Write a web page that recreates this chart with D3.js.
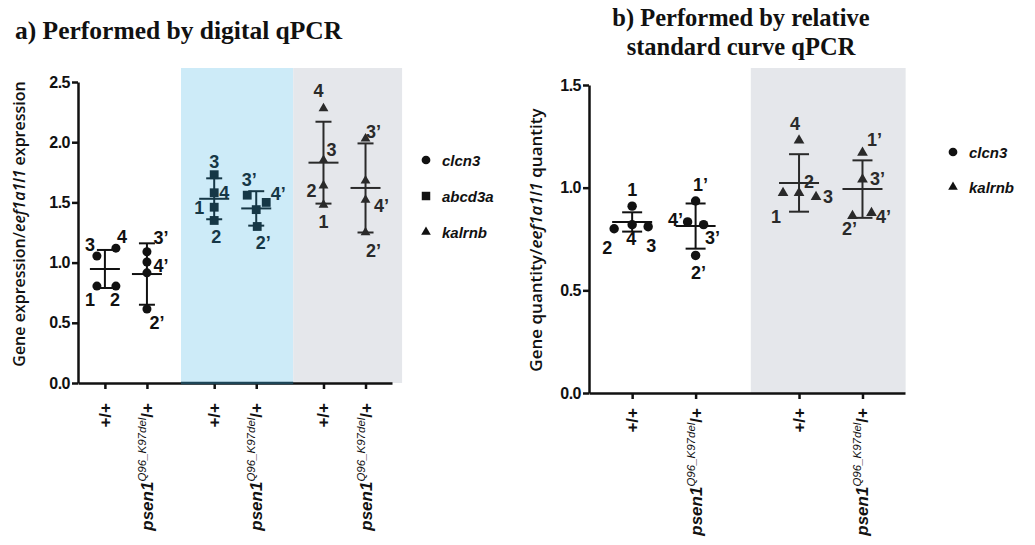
<!DOCTYPE html>
<html lang="en">
<head>
<meta charset="UTF-8">
<title>psen1 qPCR</title>
<style>
  body { margin: 0; background: #fff; }
  svg { display: block; font-family: "Liberation Sans", Arial, sans-serif; }
</style>
<script src="https://d3js.org/d3.v7.min.js"></script>
</head>
<body>
<svg width="1035" height="545"></svg>
<script>
// sample names
const wtNames = ['1', '2', '3', '4'];
const mutNames = ['1\u2019', '2\u2019', '3\u2019', '4\u2019'];

// a) digital qPCR, one row per gene, samples 1..4
const aGenes = ['clcn3', 'abcd3a', 'kalrnb'];
const aWT = [
    [0.805, 0.805, 1.055, 1.12],
    [1.46, 1.35, 1.73, 1.58],
    [1.48, 1.64, 1.85, 2.28]
];
const aMut = [
    [0.915, 0.615, 1.09, 1.005],
    [1.44, 1.30, 1.56, 1.50],
    [1.68, 1.25, 2.03, 1.52]
];
const aMeanWT = [0.947, 1.53, 1.83];
const aSdWT = [0.158, 0.17, 0.34];
const aMeanMut = [0.905, 1.45, 1.62];
const aSdMut = [0.255, 0.143, 0.37];
const aTicks = [0, 0.5, 1.0, 1.5, 2.0, 2.5];

// b) relative standard curve qPCR
const bGenes = ['clcn3', 'kalrnb'];
const bWT = [
    [0.91, 0.80, 0.81, 0.82],
    [0.974, 0.974, 0.955, 1.23]
];
const bMut = [
    [0.935, 0.67, 0.82, 0.833],
    [1.17, 0.862, 1.04, 0.877]
];
const bMeanWT = [0.833, 1.023];
const bSdWT = [0.047, 0.14];
const bMeanMut = [0.813, 0.993];
const bSdMut = [0.11, 0.14];
const bTicks = [0, 0.5, 1.0, 1.5];

// layout only: horizontal scatter of points (px) and label nudges (px)
const aJitterWT = [[-8, 11, -8, 11], [0, 0, 0, 0], [0, 0, 0, 0]];
const aJitterMut = [[0, 0, 0, 0], [0, 1, -9, 10], [0, 0, 0, 0]];
const aLabelWT = [
    [[-7, 14], [-1, 14], [-7, -11], [6, -11]],
    [[-15, 1], [2, 17], [0, -13], [10, 0]],
    [[0, 17], [-12, 5], [8, -10], [-5, -17]]
];
const aLabelMut = [
    [null, [10, 14], [14, -14], [14, 4]],
    [null, [6, 17], [2, -15], [12, -8]],
    [null, [8, 18], [8, -7], [16, 6]]
];
const bJitterWT = [[0, -18, 16, 0], [-16, 0, 17, 0]];
const bJitterMut = [[0, 0, 8, -8], [0, -10, 0, 9]];
const bLabelWT = [
    [[0, -16], [-7, 19], [3, 19], [-1, 14]],
    [[-7, 24], [10, -11], [12, 0], [-4, -16]]
];
const bLabelMut = [
    [[5, -16], [3, 18], [9, 13], [-12, -2]],
    [[12, -13], [-3, 13], [15, 0], [12, 4]]
];

const svg = d3.select('svg');
const serif = '"Liberation Serif", "Times New Roman", serif';

function marker(shape, size) {
    const types = { circle: d3.symbolCircle, square: d3.symbolSquare, triangle: d3.symbolTriangle };
    return d3.symbol().type(types[shape]).size(size)();
}

function drawYAxis(y, x0, ticks) {
    const g = svg.append('g')
        .attr('transform', `translate(${x0},0)`)
        .call(d3.axisLeft(y).tickValues(ticks).tickFormat(d3.format('.1f')).tickSize(6).tickSizeOuter(0));
    g.select('.domain').attr('stroke', '#111').attr('stroke-width', 2.5);
    g.selectAll('.tick line').attr('stroke', '#111').attr('stroke-width', 2.5);
    g.selectAll('.tick text')
        .attr('font-family', '"Liberation Sans", Arial, sans-serif')
        .attr('font-size', 16).attr('font-weight', 'bold').attr('fill', '#111').attr('x', -8)
        .attr('letter-spacing', -0.5);
}

function drawXAxis(x, y0, slots) {
    const g = svg.append('g')
        .attr('transform', `translate(0,${y0})`)
        .call(d3.axisBottom(x).tickValues(slots).tickFormat('').tickSize(6).tickSizeOuter(0));
    g.select('.domain').attr('stroke', '#111').attr('stroke-width', 2.5);
    g.selectAll('.tick line').attr('stroke', '#111').attr('stroke-width', 2.5);
}

function drawGenotypeLabels(x, slots, top) {
    slots.forEach((s, i) => {
        const t = svg.append('g')
            .attr('transform', `translate(${x(s) + 6},${top}) rotate(-90)`)
            .append('text')
            .attr('text-anchor', 'end')
            .attr('fill', '#111')
            .attr('font-size', 17)
            .attr('font-weight', 'bold');
        if (i % 2 === 0) {
            t.text('+/+');
        } else {
            t.append('tspan').attr('font-style', 'italic').text('psen1');
            t.append('tspan').attr('font-style', 'italic').attr('font-weight', 'normal')
                .attr('font-size', 11.5).attr('dy', -7).text('Q96_K97del');
            t.append('tspan').attr('dy', 7).text('/+');
        }
    });
}

function drawGroup(x, y, slot, values, jitter, names, nudges, mean, sd, shape, size, color, meanHalf, capHalf) {
    const cx = x(slot);
    // error bar: mean line, SD whisker and caps
    const g = svg.append('g').attr('stroke', color).attr('stroke-width', 2).attr('fill', 'none');
    g.append('line').attr('x1', cx).attr('x2', cx).attr('y1', y(mean - sd)).attr('y2', y(mean + sd));
    g.append('line').attr('x1', cx - meanHalf).attr('x2', cx + meanHalf).attr('y1', y(mean)).attr('y2', y(mean));
    [mean - sd, mean + sd].forEach(v => {
        g.append('line').attr('x1', cx - capHalf).attr('x2', cx + capHalf).attr('y1', y(v)).attr('y2', y(v));
    });
    svg.append('g').selectAll('path')
        .data(values)
        .join('path')
        .attr('d', marker(shape, size))
        .attr('transform', (d, i) => `translate(${cx + jitter[i]},${y(d)})`)
        .attr('fill', color);
    svg.append('g').selectAll('text')
        .data(values.map((d, i) => ({ v: d, i })).filter(d => nudges[d.i]))
        .join('text')
        .attr('x', d => cx + jitter[d.i] + nudges[d.i][0])
        .attr('y', d => y(d.v) + nudges[d.i][1])
        .attr('text-anchor', 'middle')
        .attr('dominant-baseline', 'central')
        .attr('font-size', 18)
        .attr('font-weight', 'bold')
        .attr('fill', color)
        .text(d => names[d.i]);
}

function drawLegend(genes, shapes, sizes, lx, ys) {
    genes.forEach((gname, i) => {
        svg.append('path')
            .attr('d', marker(shapes[i], sizes[i]))
            .attr('transform', `translate(${lx},${ys[i]})`)
            .attr('fill', '#111');
        svg.append('text')
            .attr('x', lx + 16).attr('y', ys[i])
            .attr('dominant-baseline', 'central')
            .attr('font-size', 15).attr('font-weight', 'bold').attr('font-style', 'italic')
            .attr('fill', '#111')
            .text(gname);
    });
}

function drawYTitle(cx, cy, before, italic, after, size) {
    const t = svg.append('text')
        .attr('transform', `translate(${cx},${cy}) rotate(-90)`)
        .attr('text-anchor', 'middle')
        .attr('dominant-baseline', 'central')
        .attr('font-family', '"Open Sans", sans-serif')
        .attr('font-size', size).attr('font-weight', 600).attr('fill', '#111');
    t.append('tspan').text(before);
    t.append('tspan').attr('font-style', 'italic').text(italic);
    t.append('tspan').text(after);
}

// ---------- panel a ----------
const aSlots = [0, 1, 2.6, 3.6, 5.2, 6.2];
const xa = d3.scaleLinear().domain([-0.64, 6.83]).range([78, 392]);
const ya = d3.scaleLinear().domain([0, 2.5]).range([383, 82]);
const aColors = ['#111', '#163746', '#2a2a2a'];
const aShapes = ['circle', 'square', 'triangle'];
const aSizes = [64, 78, 42];

svg.append('rect').attr('x', xa(1.81)).attr('y', 68)
    .attr('width', xa(4.48) - xa(1.81)).attr('height', ya(0) - 68).attr('fill', '#cdebf8');
svg.append('rect').attr('x', xa(4.48)).attr('y', 68)
    .attr('width', xa(7.07) - xa(4.48)).attr('height', ya(0) - 68).attr('fill', '#e5e7eb');

drawYAxis(ya, 78, aTicks);
drawXAxis(xa, ya(0), aSlots);
svg.append('line').attr('x1', xa(1.81)).attr('x2', xa(4.48)).attr('y1', ya(0)).attr('y2', ya(0))
    .attr('stroke', '#1d4557').attr('stroke-width', 2.5);
drawGenotypeLabels(xa, aSlots, 403);

aGenes.forEach((gname, k) => {
    drawGroup(xa, ya, aSlots[2 * k], aWT[k], aJitterWT[k], wtNames, aLabelWT[k],
        aMeanWT[k], aSdWT[k], aShapes[k], aSizes[k], aColors[k], 15, 8);
    drawGroup(xa, ya, aSlots[2 * k + 1], aMut[k], aJitterMut[k], mutNames, aLabelMut[k],
        aMeanMut[k], aSdMut[k], aShapes[k], aSizes[k], aColors[k], 15, 8);
});
drawLegend(aGenes, aShapes, [60, 72, 40], 426, [160, 196, 232]);
drawYTitle(19, 224, 'Gene expression/', 'eef1a1l1', ' expression', 16);

svg.append('text').attr('x', 15).attr('y', 39)
    .attr('font-family', serif)
    .attr('font-size', 25.5).attr('font-weight', 'bold').attr('fill', '#111')
    .text('a) Performed by digital qPCR');

// ---------- panel b ----------
const bSlots = [0, 1, 2.63, 3.63];
const xb = d3.scaleLinear().domain([-0.68, 4.3]).range([589, 905]);
const yb = d3.scaleLinear().domain([0, 1.5]).range([393, 85]);
const bColors = ['#111', '#2a2a2a'];
const bShapes = ['circle', 'triangle'];
const bSizes = [70, 50];

svg.append('rect').attr('x', xb(1.87)).attr('y', 68)
    .attr('width', xb(4.31) - xb(1.87)).attr('height', yb(0) - 68).attr('fill', '#e5e7eb');

drawYAxis(yb, 589, bTicks);
drawXAxis(xb, yb(0), bSlots);
drawGenotypeLabels(xb, bSlots, 408);

bGenes.forEach((gname, k) => {
    drawGroup(xb, yb, bSlots[2 * k], bWT[k], bJitterWT[k], wtNames, bLabelWT[k],
        bMeanWT[k], bSdWT[k], bShapes[k], bSizes[k], bColors[k], 20, 10);
    drawGroup(xb, yb, bSlots[2 * k + 1], bMut[k], bJitterMut[k], mutNames, bLabelMut[k],
        bMeanMut[k], bSdMut[k], bShapes[k], bSizes[k], bColors[k], 20, 10);
});
drawLegend(bGenes, bShapes, [60, 40], 953, [152, 187]);
drawYTitle(535, 240, 'Gene quantity/', 'eef1a1l1', ' quantity', 17);

svg.append('text').attr('x', 741).attr('y', 26)
    .attr('text-anchor', 'middle').attr('font-family', serif)
    .attr('font-size', 24.5).attr('font-weight', 'bold').attr('fill', '#111')
    .text('b) Performed by relative');
svg.append('text').attr('x', 741).attr('y', 55)
    .attr('text-anchor', 'middle').attr('font-family', serif)
    .attr('font-size', 24.5).attr('font-weight', 'bold').attr('fill', '#111')
    .text('standard curve qPCR');
</script>
</body>
</html>
